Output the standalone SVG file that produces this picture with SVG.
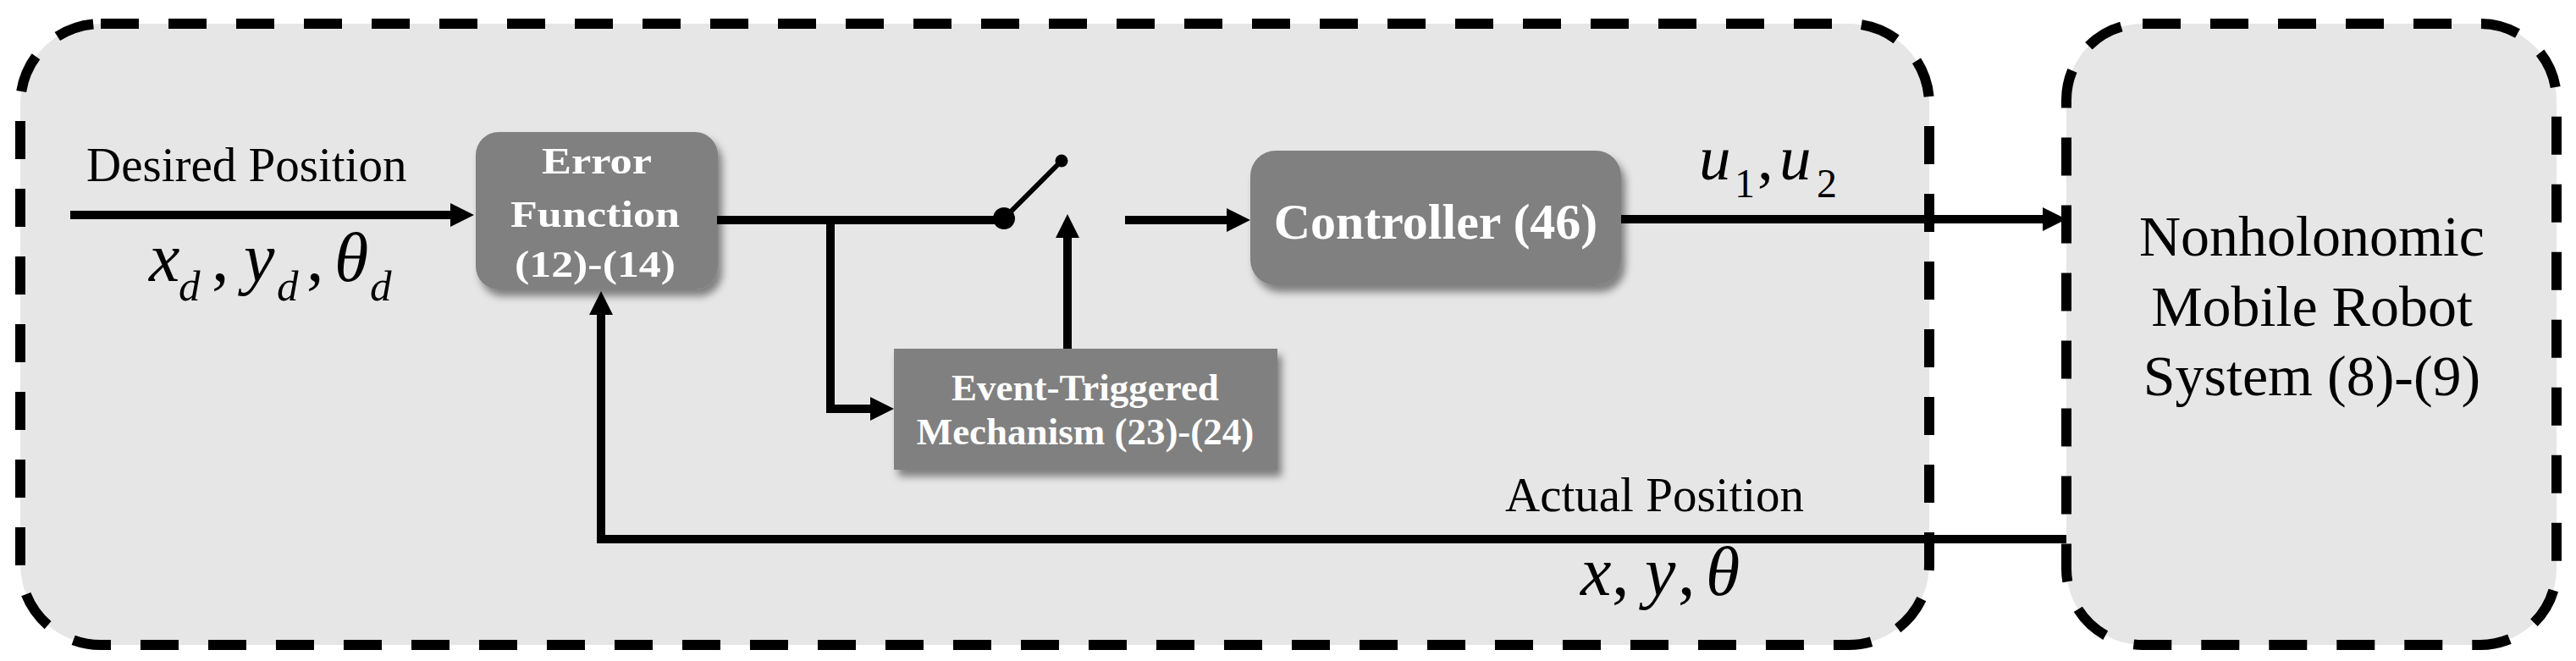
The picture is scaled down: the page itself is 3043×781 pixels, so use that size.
<svg xmlns="http://www.w3.org/2000/svg" width="3043" height="781" viewBox="0 0 3043 781">
<defs>
<style>
.container{fill:#e6e6e6;stroke:#000;stroke-width:12;stroke-dasharray:45 35}
.box{fill:#808080;filter:url(#shadow)}
.btxt{font-family:"Liberation Serif","Times New Roman",serif;font-weight:bold;fill:#fff;text-anchor:middle}
.lbl{font-family:"Liberation Serif","Times New Roman",serif;fill:#000}
.it{font-style:italic}
.conn{fill:none;stroke:#000;stroke-width:10}
</style>
<filter id="shadow" x="-10%" y="-10%" width="130%" height="140%">
<feDropShadow dx="5" dy="8" stdDeviation="5" flood-color="#000" flood-opacity="0.45"/>
</filter>
<marker id="arr" markerUnits="userSpaceOnUse" markerWidth="30" markerHeight="28" refX="1" refY="14" orient="auto">
<path d="M0,0 L28,14 L0,28 z" fill="#000"/>
</marker>
</defs>
<rect width="3043" height="781" fill="#fff"/>
<g id="controller-system">
<rect class="container" x="24" y="28" width="2255" height="734" rx="95" ry="95"/>
</g>
<g id="robot-system">
<rect class="container" x="2441" y="28" width="579" height="734" rx="90" ry="90"/>
<text class="lbl" font-size="68" text-anchor="middle"><tspan x="2731" y="302">Nonholonomic</tspan><tspan x="2731" y="385">Mobile Robot</tspan><tspan x="2731" y="467">System (8)-(9)</tspan></text>
</g>
<g id="error-function">
<rect class="box" x="562" y="156" width="286" height="186" rx="27" ry="27"/>
<text class="btxt" font-size="45" x="705" y="205" textLength="130" lengthAdjust="spacingAndGlyphs">Error</text>
<text class="btxt" font-size="45" x="703" y="268" textLength="200" lengthAdjust="spacingAndGlyphs">Function</text>
<text class="btxt" font-size="45" x="703" y="327" textLength="190" lengthAdjust="spacingAndGlyphs">(12)-(14)</text>
</g>
<g id="event-triggered">
<rect class="box" x="1056" y="412" width="453" height="143"/>
<text class="btxt" font-size="45"><tspan x="1282" y="473">Event-Triggered</tspan><tspan x="1282" y="525">Mechanism (23)-(24)</tspan></text>
</g>
<g id="controller">
<rect class="box" x="1477" y="178" width="438" height="159" rx="30" ry="30"/>
<text class="btxt" font-size="60" x="1696" y="282">Controller (46)</text>
</g>
<g id="switch">
<line x1="1186" y1="258" x2="1254" y2="190" stroke="#000" stroke-width="6"/>
<circle cx="1186" cy="258" r="13" fill="#000"/>
<circle cx="1254" cy="190" r="7.5" fill="#000"/>
</g>
<g id="connectors">
<path class="conn" d="M83,254 H533" marker-end="url(#arr)"/>
<path class="conn" d="M847,260 H1186"/>
<path class="conn" d="M981,260 V483 H1029" marker-end="url(#arr)"/>
<path class="conn" d="M1261,412 V280" marker-end="url(#arr)"/>
<path class="conn" d="M1329,260 H1450" marker-end="url(#arr)"/>
<path class="conn" d="M1915,259 H2414" marker-end="url(#arr)"/>
<path class="conn" d="M2441,637 H710 V371" marker-end="url(#arr)"/>
</g>
<g id="labels">
<text class="lbl" font-size="57" x="102" y="214">Desired Position</text>
<text class="lbl" font-size="57" x="1778" y="604">Actual Position</text>
<text class="lbl" font-size="82"><tspan class="it" x="176" y="332">x</tspan><tspan class="it" font-size="51" x="211" y="355">d</tspan><tspan x="250" y="332">,</tspan><tspan class="it" x="288" y="332">y</tspan><tspan class="it" font-size="51" x="327" y="355">d</tspan><tspan x="362" y="332">,</tspan><tspan class="it" x="395" y="332">θ</tspan><tspan class="it" font-size="51" x="437" y="355">d</tspan></text>
<text class="lbl" font-size="75"><tspan class="it" x="2007" y="212">u</tspan><tspan font-size="48" x="2049" y="233">1</tspan><tspan x="2076" y="212">,</tspan><tspan class="it" x="2102" y="212">u</tspan><tspan font-size="48" x="2146" y="233">2</tspan></text>
<text class="lbl" font-size="82"><tspan class="it" x="1867" y="703">x</tspan><tspan x="1904" y="703">,</tspan><tspan class="it" x="1943" y="703">y</tspan><tspan x="1982" y="703">,</tspan><tspan class="it" x="2015" y="703">θ</tspan></text>
</g>
</svg>
